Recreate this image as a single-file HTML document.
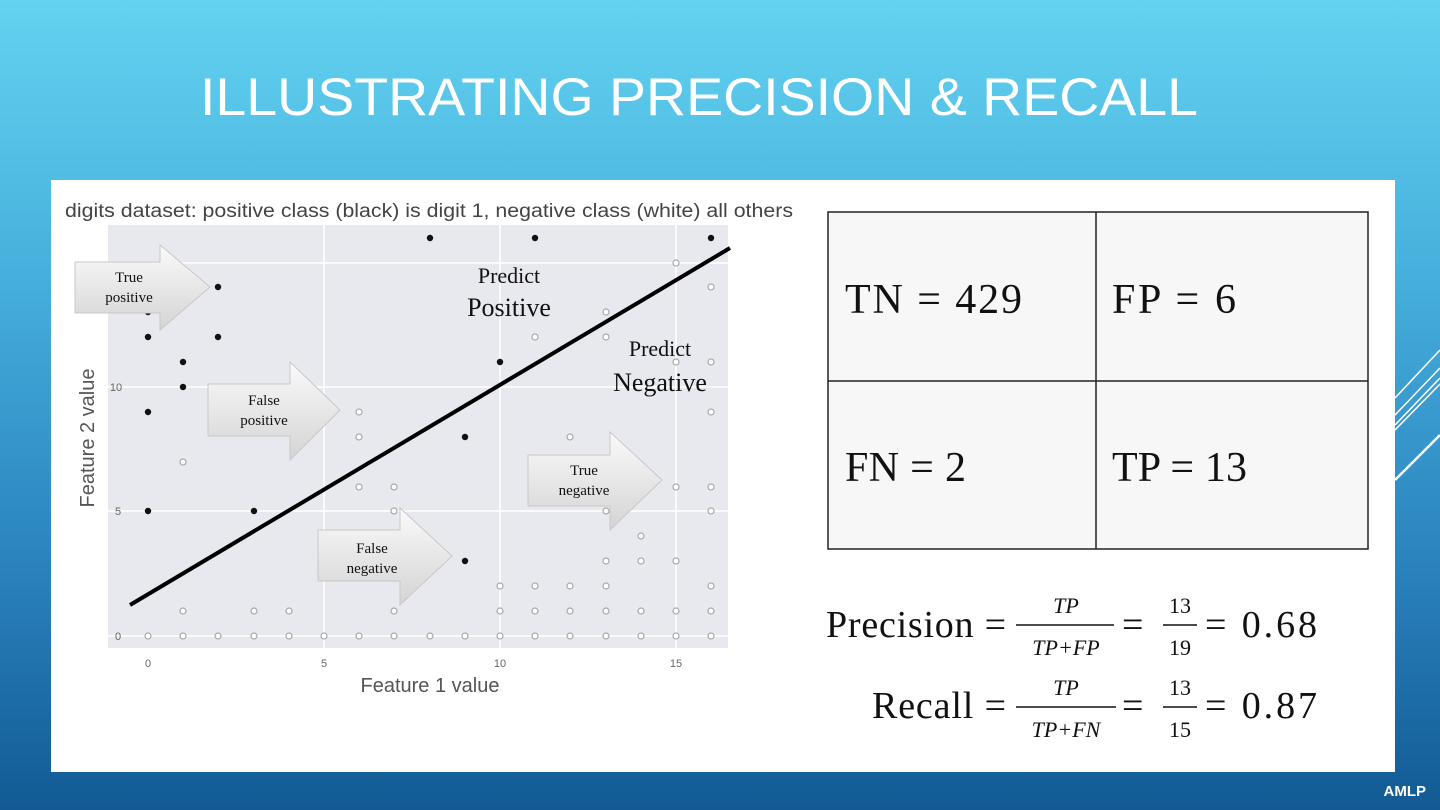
<!DOCTYPE html>
<html><head><meta charset="utf-8"><style>
html,body{margin:0;padding:0;width:1440px;height:810px;overflow:hidden}
body{background:linear-gradient(180deg,#63d3f0 0%,#45aedc 35%,#2a82bd 70%,#125a94 100%);font-family:"Liberation Sans",sans-serif;position:relative}
.box{position:absolute;left:51px;top:180px;width:1344px;height:592px;background:#fff}
.amlp{position:absolute;right:14px;top:783px;color:#fff;font-weight:bold;font-size:15px}
</style></head><body>
<div class="box"></div>
<svg width="1440" height="810" style="position:absolute;left:0;top:0">
<defs>
<linearGradient id="ag" x1="0" y1="0" x2="0" y2="1"><stop offset="0" stop-color="#fafafa"/><stop offset="1" stop-color="#d4d4d4"/></linearGradient>
</defs>
<text x="200" y="115" font-size="53" fill="#fff" textLength="998" lengthAdjust="spacingAndGlyphs">ILLUSTRATING PRECISION &amp; RECALL</text>
<g stroke="#fff" stroke-width="1.5" fill="none">
<line x1="1395" y1="398" x2="1440" y2="350"/>
<line x1="1395" y1="415" x2="1440" y2="368"/>
<line x1="1395" y1="425" x2="1440" y2="378"/>
<line x1="1395" y1="430" x2="1440" y2="384"/>
<line x1="1395" y1="480" x2="1440" y2="435" stroke-width="2.5"/>
</g>
<text x="65" y="217" font-size="19" fill="#444" textLength="728" lengthAdjust="spacingAndGlyphs">digits dataset: positive class (black) is digit 1, negative class (white) all others</text>
<rect x="108" y="225" width="620" height="423" fill="#e8e8ef"/>
<g stroke="#fff" stroke-width="1.5">
<line x1="324" y1="225" x2="324" y2="648"/><line x1="500" y1="225" x2="500" y2="648"/><line x1="676" y1="225" x2="676" y2="648"/>
<line x1="108" y1="636" x2="728" y2="636"/><line x1="108" y1="511" x2="728" y2="511"/><line x1="108" y1="387" x2="728" y2="387"/><line x1="108" y1="263" x2="728" y2="263"/>
</g>
<g font-size="11" fill="#666" text-anchor="middle">
<text x="148" y="667">0</text><text x="324" y="667">5</text><text x="500" y="667">10</text><text x="676" y="667">15</text>
<text x="118" y="640">0</text><text x="118" y="515">5</text><text x="116" y="391">10</text>
</g>
<text x="430" y="692" font-size="20" fill="#555" text-anchor="middle">Feature 1 value</text>
<text transform="translate(94,438) rotate(-90)" font-size="20" fill="#555" text-anchor="middle">Feature 2 value</text>
<g fill="#fff" stroke="#a8a8a8" stroke-width="1.2">
<circle cx="148" cy="636" r="3"/><circle cx="183" cy="636" r="3"/><circle cx="218" cy="636" r="3"/><circle cx="254" cy="636" r="3"/><circle cx="289" cy="636" r="3"/><circle cx="324" cy="636" r="3"/><circle cx="359" cy="636" r="3"/><circle cx="394" cy="636" r="3"/><circle cx="430" cy="636" r="3"/><circle cx="465" cy="636" r="3"/><circle cx="500" cy="636" r="3"/><circle cx="535" cy="636" r="3"/><circle cx="570" cy="636" r="3"/><circle cx="606" cy="636" r="3"/><circle cx="641" cy="636" r="3"/><circle cx="676" cy="636" r="3"/><circle cx="711" cy="636" r="3"/>
<circle cx="183" cy="611" r="3"/><circle cx="254" cy="611" r="3"/><circle cx="289" cy="611" r="3"/><circle cx="394" cy="611" r="3"/><circle cx="500" cy="611" r="3"/><circle cx="535" cy="611" r="3"/><circle cx="570" cy="611" r="3"/><circle cx="606" cy="611" r="3"/><circle cx="641" cy="611" r="3"/><circle cx="676" cy="611" r="3"/><circle cx="711" cy="611" r="3"/>
<circle cx="500" cy="586" r="3"/><circle cx="535" cy="586" r="3"/><circle cx="570" cy="586" r="3"/><circle cx="606" cy="586" r="3"/><circle cx="711" cy="586" r="3"/>
<circle cx="606" cy="561" r="3"/><circle cx="641" cy="561" r="3"/><circle cx="676" cy="561" r="3"/><circle cx="641" cy="536" r="3"/>
<circle cx="394" cy="511" r="3"/><circle cx="606" cy="511" r="3"/><circle cx="711" cy="511" r="3"/>
<circle cx="359" cy="487" r="3"/><circle cx="394" cy="487" r="3"/><circle cx="676" cy="487" r="3"/><circle cx="711" cy="487" r="3"/>
<circle cx="183" cy="462" r="3"/><circle cx="359" cy="437" r="3"/><circle cx="570" cy="437" r="3"/>
<circle cx="359" cy="412" r="3"/><circle cx="711" cy="412" r="3"/>
<circle cx="676" cy="362" r="3"/><circle cx="711" cy="362" r="3"/>
<circle cx="535" cy="337" r="3"/><circle cx="606" cy="337" r="3"/><circle cx="606" cy="312" r="3"/>
<circle cx="711" cy="287" r="3"/><circle cx="676" cy="263" r="3"/>
</g>
<g fill="#111">
<circle cx="430" cy="238" r="3.2"/><circle cx="535" cy="238" r="3.2"/><circle cx="711" cy="238" r="3.2"/><circle cx="218" cy="287" r="3.2"/><circle cx="148" cy="312" r="3.2"/><circle cx="148" cy="337" r="3.2"/><circle cx="218" cy="337" r="3.2"/><circle cx="183" cy="362" r="3.2"/><circle cx="183" cy="387" r="3.2"/><circle cx="148" cy="412" r="3.2"/><circle cx="500" cy="362" r="3.2"/><circle cx="465" cy="437" r="3.2"/><circle cx="254" cy="511" r="3.2"/><circle cx="148" cy="511" r="3.2"/><circle cx="465" cy="561" r="3.2"/>
</g>
<line x1="130" y1="605" x2="730" y2="248" stroke="#000" stroke-width="4"/>
<g fill="url(#ag)" stroke="#c8c8c8" stroke-width="1">
<polygon points="75,262 160,262 160,245 210,287 160,330 160,313 75,313"/>
<polygon points="208,384 290,384 290,362 340,410 290,460 290,436 208,436"/>
<polygon points="528,455 610,455 610,432 662,480 610,530 610,506 528,506"/>
<polygon points="318,530 400,530 400,508 452,556 400,605 400,581 318,581"/>
</g>
<g font-family="Liberation Serif,serif" fill="#111" text-anchor="middle" font-size="15">
<text x="129" y="282">True</text><text x="129" y="302">positive</text>
<text x="264" y="405">False</text><text x="264" y="425">positive</text>
<text x="584" y="475">True</text><text x="584" y="495">negative</text>
<text x="372" y="553">False</text><text x="372" y="573">negative</text>
</g>
<g font-family="Liberation Serif,serif" fill="#111" text-anchor="middle">
<text x="509" y="283" font-size="22">Predict</text><text x="509" y="316" font-size="26">Positive</text>
<text x="660" y="356" font-size="22">Predict</text><text x="660" y="391" font-size="26">Negative</text>
</g>
<rect x="828" y="212" width="540" height="337" fill="#f7f7f7" stroke="#222" stroke-width="1.5"/>
<line x1="1096" y1="212" x2="1096" y2="549" stroke="#222" stroke-width="1.5"/>
<line x1="828" y1="381" x2="1368" y2="381" stroke="#222" stroke-width="1.5"/>
<g font-family="Liberation Serif,serif" font-size="42" fill="#111">
<text x="845" y="313" textLength="177" lengthAdjust="spacing">TN =  429</text><text x="1112" y="313" textLength="124" lengthAdjust="spacing">FP =  6</text>
<text x="845" y="481" textLength="121" lengthAdjust="spacing">FN = 2</text><text x="1112" y="481" textLength="135" lengthAdjust="spacing">TP = 13</text>
</g>
<g font-family="Liberation Serif,serif" fill="#111">
<text x="826" y="637" font-size="38" textLength="180" lengthAdjust="spacing">Precision =</text>
<text x="1066" y="613" font-size="22" font-style="italic" text-anchor="middle">TP</text>
<line x1="1016" y1="625" x2="1114" y2="625" stroke="#111" stroke-width="1.5"/>
<text x="1066" y="655" font-size="22" font-style="italic" text-anchor="middle">TP+FP</text>
<text x="1122" y="637" font-size="38">=</text>
<text x="1180" y="613" font-size="22" text-anchor="middle">13</text>
<line x1="1163" y1="625" x2="1197" y2="625" stroke="#111" stroke-width="1.5"/>
<text x="1180" y="655" font-size="22" text-anchor="middle">19</text>
<text x="1205" y="637" font-size="38" textLength="112" lengthAdjust="spacing">= 0.68</text>
<text x="872" y="718" font-size="38" textLength="134" lengthAdjust="spacing">Recall =</text>
<text x="1066" y="695" font-size="22" font-style="italic" text-anchor="middle">TP</text>
<line x1="1016" y1="707" x2="1116" y2="707" stroke="#111" stroke-width="1.5"/>
<text x="1066" y="737" font-size="22" font-style="italic" text-anchor="middle">TP+FN</text>
<text x="1122" y="718" font-size="38">=</text>
<text x="1180" y="695" font-size="22" text-anchor="middle">13</text>
<line x1="1163" y1="707" x2="1197" y2="707" stroke="#111" stroke-width="1.5"/>
<text x="1180" y="737" font-size="22" text-anchor="middle">15</text>
<text x="1205" y="718" font-size="38" textLength="112" lengthAdjust="spacing">= 0.87</text>
</g>
</svg>
<div class="amlp">AMLP</div>
</body></html>
